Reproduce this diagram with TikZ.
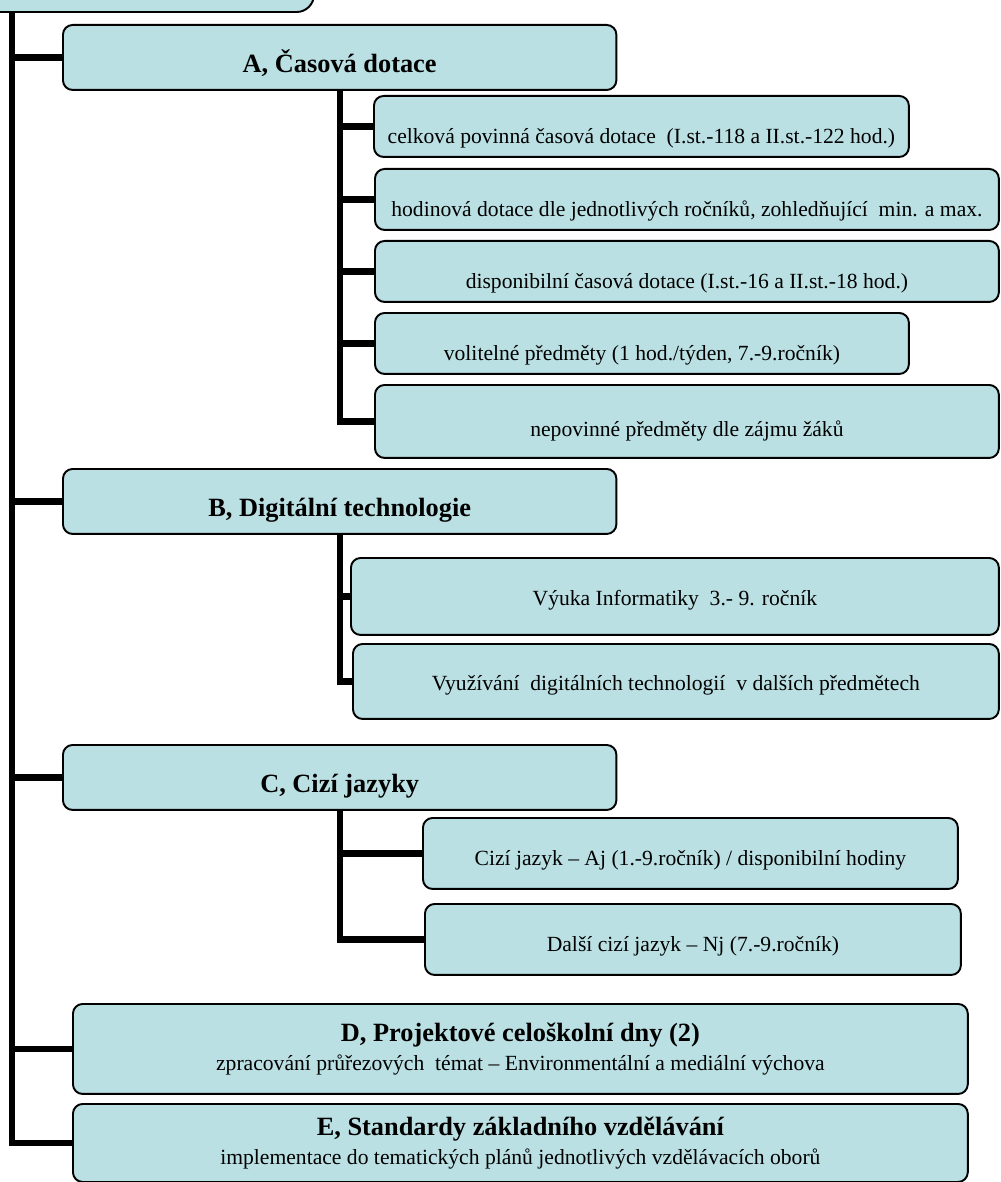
\documentclass[tikz,border=0pt]{standalone}
\usepackage{fontspec}
\setmainfont{Liberation Serif}

\definecolor{boxfill}{RGB}{186,224,227}

\begin{document}
\begin{tikzpicture}[x=0.02cm,y=-0.02cm,
	box/.style={draw=black,line width=1.1pt,fill=boxfill,rounded corners=5.5pt,anchor=north west,inner sep=1pt},
	title node/.style={box,font=\bfseries\fontsize{15}{18}\selectfont,minimum width=11.07cm,minimum height=1.3cm,text depth=3pt,text height=20pt},
	sub node/.style={box,font=\fontsize{12.3}{14}\selectfont,text depth=3pt,text height=#1},
	sub node/.default=22pt,
	wide node/.style={box,font=\fontsize{12.3}{14}\selectfont,align=center,minimum width=17.9cm},
	link/.style={line width=3.5pt}]
	
	\useasboundingbox (0,0) rectangle (1000,1182);
	
	\node[box,anchor=south east,rounded corners=10pt,minimum width=8.3cm,minimum height=1.5cm] (root) at (315,13) {};
	
	\node[title node] (A) at (62,24) {A, Časová dotace};
	\node[sub node,minimum width=10.7cm,minimum height=1.22cm] (A1) at (373,95) {celková povinná časová dotace~ (I.st.-118 a II.st.-122 hod.)};
	\node[sub node,minimum width=12.48cm,minimum height=1.22cm] (A2) at (374,168) {hodinová dotace dle jednotlivých ročníků, zohledňující~ min. a max.};
	\node[sub node,minimum width=12.48cm,minimum height=1.22cm] (A3) at (374,240) {disponibilní časová dotace (I.st.-16 a II.st.-18 hod.)};
	\node[sub node,minimum width=10.68cm,minimum height=1.22cm] (A4) at (374,312) {volitelné předměty (1 hod./týden, 7.-9.ročník)};
	\node[sub node=20pt,minimum width=12.48cm,minimum height=1.46cm] (A5) at (374,384) {nepovinné předměty dle zájmu žáků};
	
	\node[title node] (B) at (62,468) {B, Digitální technologie};
	\node[sub node=13pt,minimum width=12.96cm,minimum height=1.54cm] (B1) at (350,557) {Výuka Informatiky~ 3.- 9. ročník};
	\node[sub node=13pt,minimum width=12.92cm,minimum height=1.5cm] (B2) at (352,643) {Využívání~ digitálních technologií~ v dalších předmětech};
	
	\node[title node] (C) at (62,744) {C, Cizí jazyky};
	\node[sub node=17pt,minimum width=10.7cm,minimum height=1.42cm] (C1) at (422,817) {Cizí jazyk – Aj (1.-9.ročník) / disponibilní hodiny};
	\node[sub node=17pt,minimum width=10.72cm,minimum height=1.42cm] (C2) at (424,903) {Další cizí jazyk – Nj (7.-9.ročník)};
	
	\node[wide node,minimum height=1.8cm] (D) at (72,1003) {{\bfseries\fontsize{15}{17}\selectfont D, Projektové celoškolní dny (2)}\\[2.5pt]zpracování průřezových~ témat – Environmentální a mediální výchova};
	\node[wide node,minimum height=1.56cm] (E) at (72,1103) {{\bfseries\fontsize{15}{17}\selectfont E, Standardy základního vzdělávání}\\[2.5pt]implementace do tematických plánů jednotlivých vzdělávacích oborů};
	
	\coordinate (trunk) at (12,0);
	\draw[link] (root.south -| trunk) |- (E.west);
	\foreach \n in {A,B,C,D}
		\draw[link] (\n.west) -- (\n.west -| trunk);
	
	\draw[link] (A.south) |- (A5.west);
	\foreach \n in {A1,A2,A3,A4}
		\draw[link] (\n.west) -- (\n.west -| A.south);
	\draw[link] (B.south) |- (B2.west);
	\draw[link] (B1.west) -- (B1.west -| B.south);
	\draw[link] (C.south) |- (C2.west);
	\draw[link] (C1.west) -- (C1.west -| C.south);
\end{tikzpicture}
\end{document}
